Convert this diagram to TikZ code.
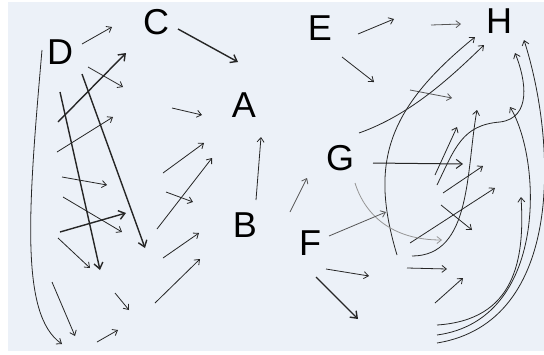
\documentclass[tikz,border=0pt]{standalone}
\usepackage{fontspec}
\setmainfont{Liberation Sans}
\usetikzlibrary{arrows.meta}

\definecolor{paper}{RGB}{236,241,248}
\definecolor{ink}{RGB}{38,38,38}
\definecolor{pencil}{RGB}{85,85,85}
\definecolor{faint}{RGB}{150,150,150}

\begin{document}
\begin{tikzpicture}[
  x=1pt, y=-1pt,
  letter/.style={font=\fontsize{36}{36}\selectfont, inner sep=0pt, text=black},
  stroke/.style={line width=0.8pt, ink, -{Straight Barb[length=4.5pt,width=7pt]}},
  boldstroke/.style={line width=1.4pt, ink, -{Straight Barb[length=6pt,width=9pt]}},
  greystroke/.style={line width=0.8pt, pencil, -{Straight Barb[length=4.5pt,width=7pt]}},
  faintstroke/.style={line width=0.8pt, faint, -{Straight Barb[length=4.5pt,width=7pt]}},
]

% --- sheet ---
\useasboundingbox (0,0) rectangle (544,354);
\fill[white] (0,0) rectangle (544,354);
\fill[paper] (8,2) rectangle (544,351);

% --- letters ---
\node[letter] (C) at (156,22) {C};
\node[letter] (D) at (60,52) {D};
\node[letter] (A) at (244,105) {A};
\node[letter] (B) at (245,225) {B};
\node[letter] (E) at (320,28) {E};
\node[letter] (H) at (499,21) {H};
\node[letter] (G) at (340,158) {G};
\node[letter] (F) at (310,243) {F};

% --- left scribbles ---
\draw[stroke] (82,44) -- (112,27);
\draw[boldstroke] (178,29) -- (238,62);
\draw[boldstroke] (58,122) -- (126,53);
\draw[stroke] (88,67) -- (123,87);
\draw[stroke] (57,152) -- (113,117);
\draw[stroke] (172,108) -- (202,115);
\draw[boldstroke] (60,92) -- (100,270);
\draw[boldstroke] (82,74) -- (145,248);
\draw[stroke] (42,50) .. controls (28,210) and (20,315) .. (62,344);
\draw[stroke] (62,177) -- (107,185);
\draw[stroke] (63,197) -- (122,232);
\draw[boldstroke] (60,232) -- (126,213);
\draw[stroke] (58,238) -- (90,268);
\draw[stroke] (157,229) -- (212,158);
\draw[stroke] (163,173) -- (204,143);
\draw[stroke] (166,192) -- (193,202);
\draw[stroke] (163,258) -- (199,233);
\draw[stroke] (155,303) -- (200,259);
\draw[stroke] (115,293) -- (129,310);
\draw[stroke] (97,342) -- (118,330);
\draw[stroke] (52,282) -- (75,336);
\draw[stroke] (256,200) -- (261,137);
\draw[greystroke] (290,212) -- (307,178);

% --- right scribbles ---
\draw[stroke] (358,34) -- (394,19);
\draw[greystroke] (431,25) -- (461,24);
\draw[stroke] (342,57) -- (374,82);
\draw[greystroke] (410,90) -- (452,98);
\draw[stroke] (359,133) .. controls (410,115) and (450,78) .. (484,45);
\draw[stroke] (397,255) .. controls (370,165) and (385,110) .. (475,37);
\draw[boldstroke, line width=1pt] (373,163) -- (463,164);
\draw[stroke] (412,256) .. controls (472,256) and (466,170) .. (477,110);
\draw[stroke] (437,185) .. controls (455,148) and (462,125) .. (500,122)
  .. controls (532,118) and (526,80) .. (515,53);
\draw[stroke] (435,175) -- (457,127);
\draw[stroke] (443,193) -- (483,166);
\draw[stroke] (410,243) -- (495,188);
\draw[stroke] (441,205) -- (472,230);
\draw[stroke] (407,268) -- (447,269);
\draw[stroke] (435,303) -- (463,278);
\draw[faintstroke] (355,183) .. controls (365,215) and (392,240) .. (442,240);
\draw[greystroke] (329,236) -- (386,212);
\draw[stroke] (326,269) -- (369,276);
\draw[boldstroke] (316,277) -- (358,319);
\draw[stroke] (437,343) .. controls (566,322) and (556,140) .. (524,40);
\draw[stroke] (437,335) .. controls (548,320) and (542,160) .. (510,107);
\draw[stroke] (437,325) .. controls (515,320) and (525,260) .. (521,197);

\end{tikzpicture}
\end{document}
